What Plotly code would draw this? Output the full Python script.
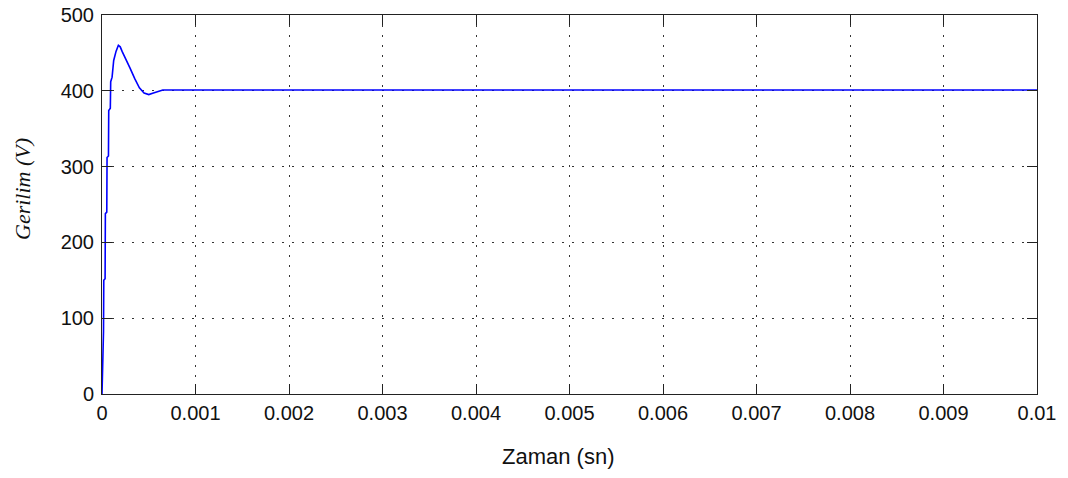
import plotly.graph_objects as go

# time (s) and voltage (V)
time = [0, 0.000005, 0.000008, 0.000016, 0.000019, 0.000033, 0.000036,
        0.000051, 0.000054, 0.000069, 0.000072, 0.000089, 0.000093,
        0.000108, 0.000125, 0.000150, 0.000175, 0.000195, 0.000215,
        0.00025, 0.0003, 0.00035, 0.0004, 0.00045, 0.0005, 0.00055,
        0.0006, 0.00065, 0.0007, 0.001, 0.01]
voltage = [0, 27, 80, 82, 150, 152, 238, 240, 312, 314, 374, 377, 412,
           418, 440, 452, 460, 458, 452, 442, 430, 416, 404, 397, 395,
           397, 399, 401, 401, 401, 401]

x_ticks = [0, 0.001, 0.002, 0.003, 0.004, 0.005, 0.006, 0.007, 0.008, 0.009, 0.01]
x_tick_text = ["0", "0.001", "0.002", "0.003", "0.004", "0.005", "0.006",
               "0.007", "0.008", "0.009", "0.01"]
y_ticks = [0, 100, 200, 300, 400, 500]

x_title = "Zaman (sn)"
y_title = "Gerilim (V)"

fig = go.Figure()
fig.add_trace(go.Scatter(x=time, y=voltage, mode="lines",
                         line=dict(color="#0000ff", width=1.6),
                         showlegend=False))

tick_font = dict(family="Liberation Sans, Arial", size=20, color="#111111")
axis_common = dict(
    showline=True, linecolor="#222222", linewidth=1, mirror="ticks",
    ticks="inside", ticklen=10, tickcolor="#222222", tickwidth=1,
    showgrid=True, gridcolor="#333333", gridwidth=1, griddash="2px,8px",
    zeroline=False, automargin=False, ticklabeloverflow="allow",
    tickfont=tick_font,
)

fig.update_xaxes(range=[0, 0.01], tickvals=x_ticks, ticktext=x_tick_text,
                 ticklabelstandoff=1, **axis_common)
fig.update_yaxes(range=[0, 500], tickvals=y_ticks, ticklabelstandoff=3,
                 **axis_common)

fig.add_annotation(text=x_title, xref="paper", yref="paper",
                   x=(558 - 102) / 935, y=(394 - 456) / 379,
                   xanchor="center", yanchor="middle", showarrow=False,
                   font=dict(family="Liberation Sans, Arial", size=22, color="#111111"))
fig.add_annotation(text="<i>" + y_title + "</i>", xref="paper", yref="paper",
                   x=(22 - 102) / 935, y=(394 - 189) / 379, textangle=-90,
                   xanchor="center", yanchor="middle", showarrow=False,
                   font=dict(family="Liberation Serif, Times New Roman", size=22, color="#111111"))

fig.update_layout(
    width=1068, height=478,
    margin=dict(l=102, r=31, t=15, b=84),
    paper_bgcolor="white", plot_bgcolor="white",
)

fig.write_html("out.html", config={"displayModeBar": False},
               post_script="document.body.style.margin='0';")
